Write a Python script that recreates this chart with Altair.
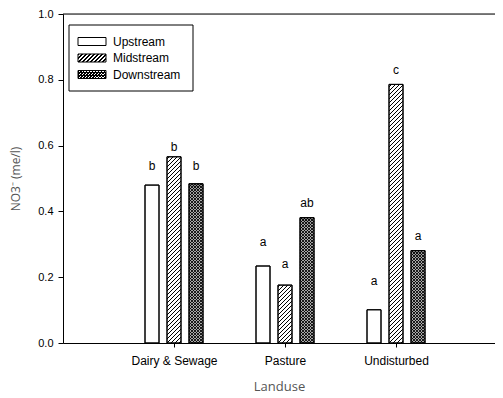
import math
import json
import altair as alt
import pandas as pd

# ---------------- data ----------------
landuse = ["Dairy & Sewage", "Pasture", "Undisturbed"]
series = ["Upstream", "Midstream", "Downstream"]
upstream = [0.480, 0.234, 0.101]
midstream = [0.566, 0.176, 0.786]
downstream = [0.484, 0.381, 0.281]
letters_up = ["b", "a", "a"]
letters_mid = ["b", "a", "c"]
letters_down = ["b", "ab", "a"]
letter_y_up = [0.539, 0.307, 0.188]
letter_y_mid = [0.597, 0.240, 0.830]
letter_y_down = [0.539, 0.426, 0.325]

# ---------------- layout / style ----------------
PLOT_W, PLOT_H = 432, 329
STEP_PX = 111.0
X_MAX = PLOT_W / STEP_PX
BAR_PX = 14.0
GAP_PX = 22.0
half = BAR_PX / 2 / STEP_PX
off = GAP_PX / STEP_PX
LABEL_FONT = "Liberation Sans"
TITLE_FONT = "Open Sans"
SQ2 = math.sqrt(2)
MID_P, MID_W = 4.0, 1.0        # "/" hatch: horizontal spacing (px), line width
CROSS_P, CROSS_W = 3.0, 1.05   # cross hatch

values = {"Upstream": upstream, "Midstream": midstream, "Downstream": downstream}
letters = {"Upstream": letters_up, "Midstream": letters_mid, "Downstream": letters_down}
letter_y = {"Upstream": letter_y_up, "Midstream": letter_y_mid, "Downstream": letter_y_down}

rows = []
for i, cat in enumerate(landuse):
    for j, s in enumerate(series):
        c = (i + 1) + (j - 1) * off
        rows.append({"landuse": cat, "series": s, "xc": c, "x0": c - half, "x1": c + half,
                     "value": values[s][i], "letter": letters[s][i], "ly": letter_y[s][i]})
df = pd.DataFrame(rows)
one = pd.DataFrame({"k": [0]})


def hatch_lines(x0, value, P, directions):
    """Diagonal hatch segments inside one bar, in data units of the chart's scales."""
    W = BAR_PX
    H = value * PLOT_H
    out = []
    if "/" in directions:
        k = math.floor(-W / P)
        while k * P <= H:
            y0 = k * P
            t0, t1 = max(0.0, -y0), min(W, H - y0)
            if t1 > t0:
                out.append({"hx0": x0 + t0 / STEP_PX, "hx1": x0 + t1 / STEP_PX,
                            "hy0": (y0 + t0) / PLOT_H, "hy1": (y0 + t1) / PLOT_H})
            k += 1
    if "\\" in directions:
        k = 0
        while k * P <= H + W:
            y0 = k * P
            t0, t1 = max(0.0, y0 - H), min(W, y0)
            if t1 > t0:
                out.append({"hx0": x0 + t0 / STEP_PX, "hx1": x0 + t1 / STEP_PX,
                            "hy0": (y0 - t0) / PLOT_H, "hy1": (y0 - t1) / PLOT_H})
            k += 1
    return out


mid_lines, cross_lines = [], []
for _, r in df.iterrows():
    if r["series"] == "Midstream":
        mid_lines += hatch_lines(r["x0"], r["value"], MID_P, "/")
    elif r["series"] == "Downstream":
        cross_lines += hatch_lines(r["x0"], r["value"], CROSS_P, "/\\")
mid_df = pd.DataFrame(mid_lines)
cross_df = pd.DataFrame(cross_lines)


def hatch_grad(w, h, direction, P, f, fg="black", bg="white"):
    """Striped linear gradient for the small legend swatches."""
    L = (w + h) / SQ2
    c = (1 / h + 1 / w) / (1 / h ** 2 + 1 / w ** 2)
    if direction == "/":
        x1, y1, x2, y2 = 0, 0, c / h, c / w
    else:
        x1, y1, x2, y2 = 0, 1, c / h, 1 - c / w
    p = P / SQ2
    stops = []
    k = 0
    while k * p < L:
        a = k * p / L
        b = min(1.0, (k * p + f * p) / L)
        e = min(1.0, (k + 1) * p / L)
        stops += [alt.GradientStop(offset=a, color=fg), alt.GradientStop(offset=b, color=fg),
                  alt.GradientStop(offset=b, color=bg), alt.GradientStop(offset=e, color=bg)]
        k += 1
    return alt.LinearGradient(gradient="linear", stops=stops, x1=x1, y1=y1, x2=x2, y2=y2)


label_expr = "[''," + ",".join(json.dumps(s) for s in landuse) + "][datum.value]"

xenc = alt.X("x0:Q", scale=alt.Scale(domain=[0, X_MAX], nice=False, zero=False),
             axis=alt.Axis(values=[1, 2, 3], labelExpr=label_expr, title="Landuse", grid=False,
                           tickSize=4, tickColor="black", domainColor="black",
                           labelFont=LABEL_FONT, labelFontSize=12, labelColor="black",
                           labelPadding=8, titleFont=TITLE_FONT, titleFontSize=13,
                           titleColor="#555", titleFontWeight="normal", titlePadding=14))
yenc = alt.Y("value:Q", scale=alt.Scale(domain=[0, 1], nice=False),
             axis=alt.Axis(values=[0, 0.2, 0.4, 0.6, 0.8, 1.0], format=".1f", title="NO3⁻  (me/l)",
                           grid=False, tickSize=5, tickColor="black", domainColor="black",
                           labelFont=LABEL_FONT, labelFontSize=11, labelColor="black",
                           labelPadding=5, titleFont=TITLE_FONT, titleFontSize=12,
                           titleColor="#555", titleFontWeight="normal", titlePadding=15))

base = alt.Chart(df)
layers = []
layers.append(base.mark_rect(fill="white", stroke="black", strokeWidth=1).encode(
    x=xenc, x2="x1:Q", y=yenc, y2=alt.datum(0)))

layers.append(alt.Chart(mid_df).mark_rule(color="black", strokeWidth=MID_W).encode(
    x="hx0:Q", x2="hx1:Q", y="hy0:Q", y2="hy1:Q"))
layers.append(alt.Chart(cross_df).mark_rule(color="black", strokeWidth=CROSS_W).encode(
    x="hx0:Q", x2="hx1:Q", y="hy0:Q", y2="hy1:Q"))

# bar outlines on top
layers.append(base.mark_rect(fillOpacity=0, stroke="black", strokeWidth=1).encode(
    x="x0:Q", x2="x1:Q", y="value:Q", y2=alt.datum(0)))

layers.append(base.mark_text(font=LABEL_FONT, fontSize=12, color="black", baseline="middle",
                             opacity=0.99).encode(
    x="xc:Q", y="ly:Q", text="letter:N"))

# top frame line
layers.append(alt.Chart(one).mark_rule(color="black", strokeWidth=1).encode(y=alt.value(0)))

# manual legend
leg_box = alt.Chart(one).mark_rect(fill="white", stroke="black", strokeWidth=1).encode(
    x=alt.value(6), x2=alt.value(130), y=alt.value(11), y2=alt.value(77))
layers.append(leg_box)
SW_X0, SW_X1, SW_H = 15, 43, 8
row_y = [27.5, 44, 60.5]
for s, yy in zip(series, row_y):
    w = SW_X1 - SW_X0
    if s == "Upstream":
        fills = [("white", 1)]
    elif s == "Midstream":
        fills = [(hatch_grad(w, SW_H, "/", MID_P, 0.36), 1)]
    else:
        fills = [(hatch_grad(w, SW_H, "/", CROSS_P, 0.5), 0),
                 (hatch_grad(w, SW_H, "\\", CROSS_P, 0.5, bg="rgba(0,0,0,0)"), 1)]
    for f, sw in fills:
        layers.append(alt.Chart(one).mark_rect(fill=f, stroke="black", strokeWidth=sw).encode(
            x=alt.value(SW_X0), x2=alt.value(SW_X1), y=alt.value(yy - SW_H / 2),
            y2=alt.value(yy + SW_H / 2)))
    layers.append(alt.Chart(one).mark_text(text=s, font=LABEL_FONT, fontSize=12, color="black",
                                           align="left", baseline="middle").encode(
        x=alt.value(50), y=alt.value(yy)))

chart = alt.layer(*layers).properties(
    width=PLOT_W, height=PLOT_H,
    padding={"left": 55, "top": 6, "right": 0, "bottom": 52},
    autosize="none",
).configure_view(stroke=None).configure(background="white")

chart.save("out.html", embed_options={"renderer": "svg", "actions": False})
